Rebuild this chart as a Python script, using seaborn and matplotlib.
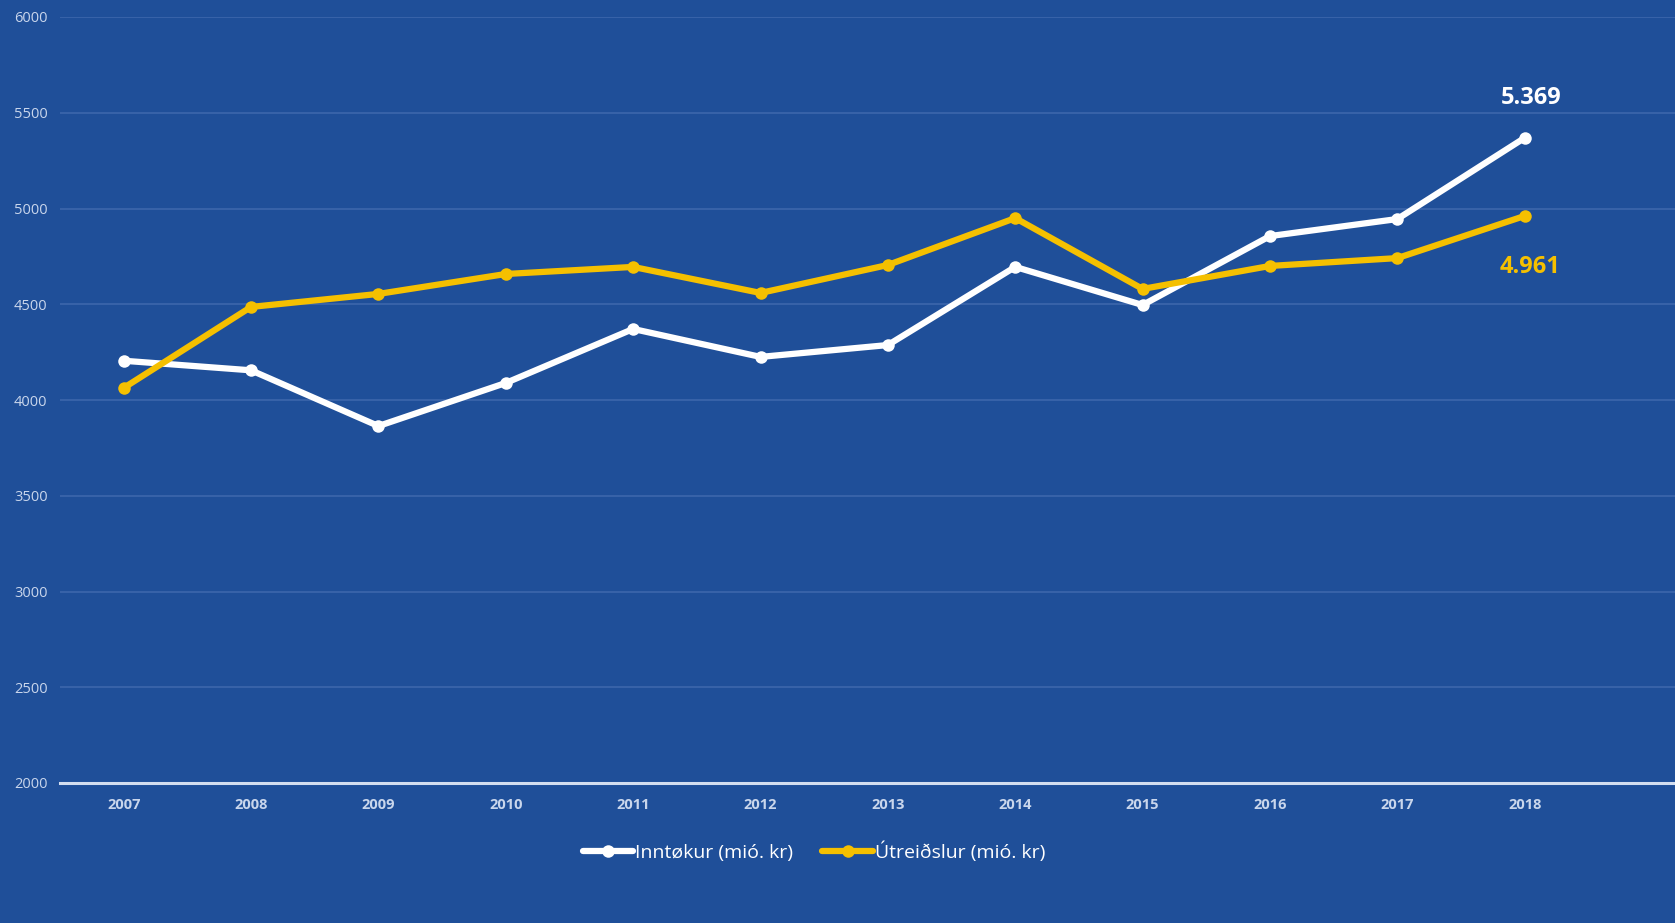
import matplotlib
matplotlib.use("Agg")
import matplotlib.pyplot as plt
import seaborn as sns
import pandas as pd

years = [2007, 2008, 2009, 2010, 2011, 2012, 2013, 2014, 2015, 2016, 2017, 2018]
inntokur = [4205, 4155, 3864, 4089, 4371, 4225, 4287, 4695, 4496, 4856, 4945, 5369]
utreidslur = [4063, 4486, 4554, 4658, 4695, 4559, 4705, 4950, 4580, 4700, 4741, 4961]
series_names = ["Inntøkur (mió. kr)", "Útreiðslur (mió. kr)"]
yticks = [2000, 2500, 3000, 3500, 4000, 4500, 5000, 5500, 6000]

BG = "#1F4F99"
WHITE = "#FFFFFF"
YELLOW = "#F5C000"
TICK = "#C9D6EC"

sns.set_theme(style="white")
plt.rcParams["font.family"] = ["Open Sans", "DejaVu Sans"]

df = pd.DataFrame({
    "year": years * 2,
    "value": inntokur + utreidslur,
    "series": [series_names[0]] * len(years) + [series_names[1]] * len(years),
})

fig = plt.figure(figsize=(16.75, 9.23), dpi=100, facecolor=BG)
ax = fig.add_axes([60 / 1675, (923 - 783) / 923, 1 - 60 / 1675, (783 - 17) / 923])
ax.set_facecolor(BG)

sns.lineplot(data=df, x="year", y="value", hue="series",
             palette=[WHITE, YELLOW], marker="o", markersize=9,
             markeredgewidth=0, linewidth=4.5, ax=ax, legend=True)

ax.set_ylim(2000, 6000)
ax.set_xlim(2006.5, 2019.18)
ax.set_yticks(yticks)
ax.set_yticklabels([str(t) for t in yticks], color=TICK, fontsize=10.5)
ax.set_xticks(years)
ax.set_xticklabels([str(y) for y in years], color=TICK, fontsize=10.5, fontweight="bold")
ax.tick_params(axis="x", length=0, pad=11)
ax.tick_params(axis="y", length=0, pad=9)
ax.grid(axis="y", color="#3C66AC", linewidth=1.2)
ax.grid(axis="x", visible=False)
for s in ["top", "right", "left"]:
    ax.spines[s].set_visible(False)
ax.spines["bottom"].set_color("#D3DEF0")
ax.spines["bottom"].set_linewidth(2.2)
ax.set_xlabel("")
ax.set_ylabel("")

ax.annotate(f"{inntokur[-1]/1000:.3f}", (years[-1], inntokur[-1]), xytext=(5, 20),
            textcoords="offset points", ha="center", va="bottom",
            color=WHITE, fontsize=17, fontweight="bold")
ax.annotate(f"{utreidslur[-1]/1000:.3f}", (years[-1], utreidslur[-1]), xytext=(4, -28),
            textcoords="offset points", ha="center", va="top",
            color=YELLOW, fontsize=17, fontweight="bold")

leg = ax.legend(loc="center", bbox_to_anchor=(814 / 1675, 1 - 852 / 923),
                bbox_transform=fig.transFigure, ncol=2, frameon=False,
                fontsize=14, handlelength=2.6, handletextpad=0.1, columnspacing=1.5)
for t in leg.get_texts():
    t.set_color(WHITE)

fig.savefig("out.png", dpi=100, facecolor=BG)
